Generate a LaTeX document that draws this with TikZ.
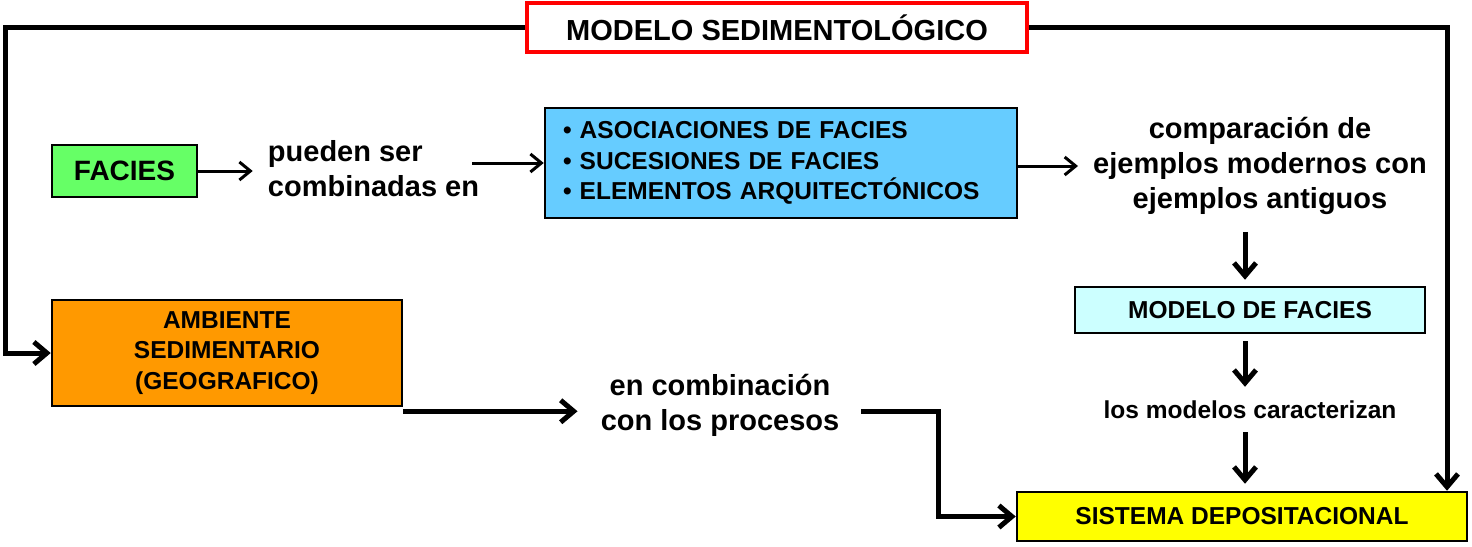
\documentclass[tikz,border=0pt]{standalone}
\usepackage{fontspec}
\setmainfont{Liberation Sans}
\usetikzlibrary{arrows.meta}
\definecolor{faciesgreen}{RGB}{102,255,102}
\definecolor{assocblue}{RGB}{102,204,255}
\definecolor{amborange}{RGB}{255,153,0}
\definecolor{modcyan}{RGB}{204,255,255}
\definecolor{sisyellow}{RGB}{255,255,0}
\begin{document}
\begin{tikzpicture}[x=1pt,y=-1pt,
	box/.style={draw=black,line width=2.5pt,inner sep=0pt,align=center},
	big/.style={font=\fontsize{29}{35}\selectfont\bfseries},
	small/.style={font=\fontsize{24.5}{30.5}\selectfont\bfseries},
	thinarr/.style={line width=3pt,-{Straight Barb[length=11pt,width=18pt]}},
	thickarr/.style={line width=5pt,-{Straight Barb[length=13pt,width=22pt]}}]
	\useasboundingbox (0,0) rectangle (1472,546);
	\node[box,draw=red,line width=4pt,fill=white,minimum width=500,minimum height=49,big] (modsed) at (777,27.5) {MODELO SEDIMENTOLÓGICO};
	\node[box,fill=faciesgreen,minimum width=145,minimum height=52,font=\fontsize{28}{34}\selectfont\bfseries] (facies) at (124.5,171) {FACIES};
	\node[big,align=left,inner sep=2pt] (pueden) at (373.5,169) {pueden ser\\combinadas en};
	\node[box,fill=assocblue,text width=436,inner xsep=18,minimum height=110,align=left,small] (assoc) at (781,163) {• ASOCIACIONES DE FACIES\\• SUCESIONES DE FACIES\\• ELEMENTOS ARQUITECTÓNICOS};
	\node[big,align=center,inner sep=2pt] (comp) at (1260,166) {comparación de\\ejemplos modernos con\\ejemplos antiguos};
	\node[box,fill=modcyan,minimum width=350,minimum height=46,small] (mf) at (1250,310) {MODELO DE FACIES};
	\node[small,inner sep=2pt] (los) at (1250,410) {los modelos caracterizan};
	\node[box,fill=sisyellow,minimum width=450,minimum height=49,small] (sis) at (1242,516.5) {SISTEMA DEPOSITACIONAL};
	\node[box,fill=amborange,minimum width=350,minimum height=106,small] (amb) at (227,353) {AMBIENTE\\SEDIMENTARIO\\(GEOGRAFICO)};
	\node[big,align=center,inner sep=2pt] (encomb) at (720,405) {en combinación\\con los procesos};
	\coordinate (lc) at (5,27.5);
	\coordinate (rc) at (1447,27.5);
	\coordinate (vx) at (1245,0);
	\coordinate (pbend) at (938,411);
	\draw[thickarr] (modsed.west) -- (lc) |- (amb.west);
	\draw[thickarr] (modsed.east) -- (rc) -- (rc |- sis.north);
	\draw[thinarr,shorten >=13pt] (facies.east) -- (facies.east -| pueden.west);
	\draw[thinarr] ([xshift=-9pt]pueden.east |- assoc.west) -- (assoc.west);
	\draw[thinarr,shorten >=13pt] (assoc.east |- comp.west) -- (comp.west);
	\draw[thickarr,shorten <=15pt,shorten >=6pt] (vx |- comp.south) -- (vx |- mf.north);
	\draw[thickarr,shorten <=7pt,shorten >=12pt] (vx |- mf.south) -- (vx |- los.north);
	\draw[thickarr,shorten <=11pt,shorten >=7pt] (vx |- los.south) -- (vx |- sis.north);
	\draw[thickarr,shorten >=21pt] ([yshift=-4pt]amb.south east) -- ([yshift=-4pt]amb.south east -| encomb.west);
	\draw[thickarr,shorten <=20pt] (encomb.east |- pbend) -- (pbend) |- (sis.west);
\end{tikzpicture}
\end{document}
